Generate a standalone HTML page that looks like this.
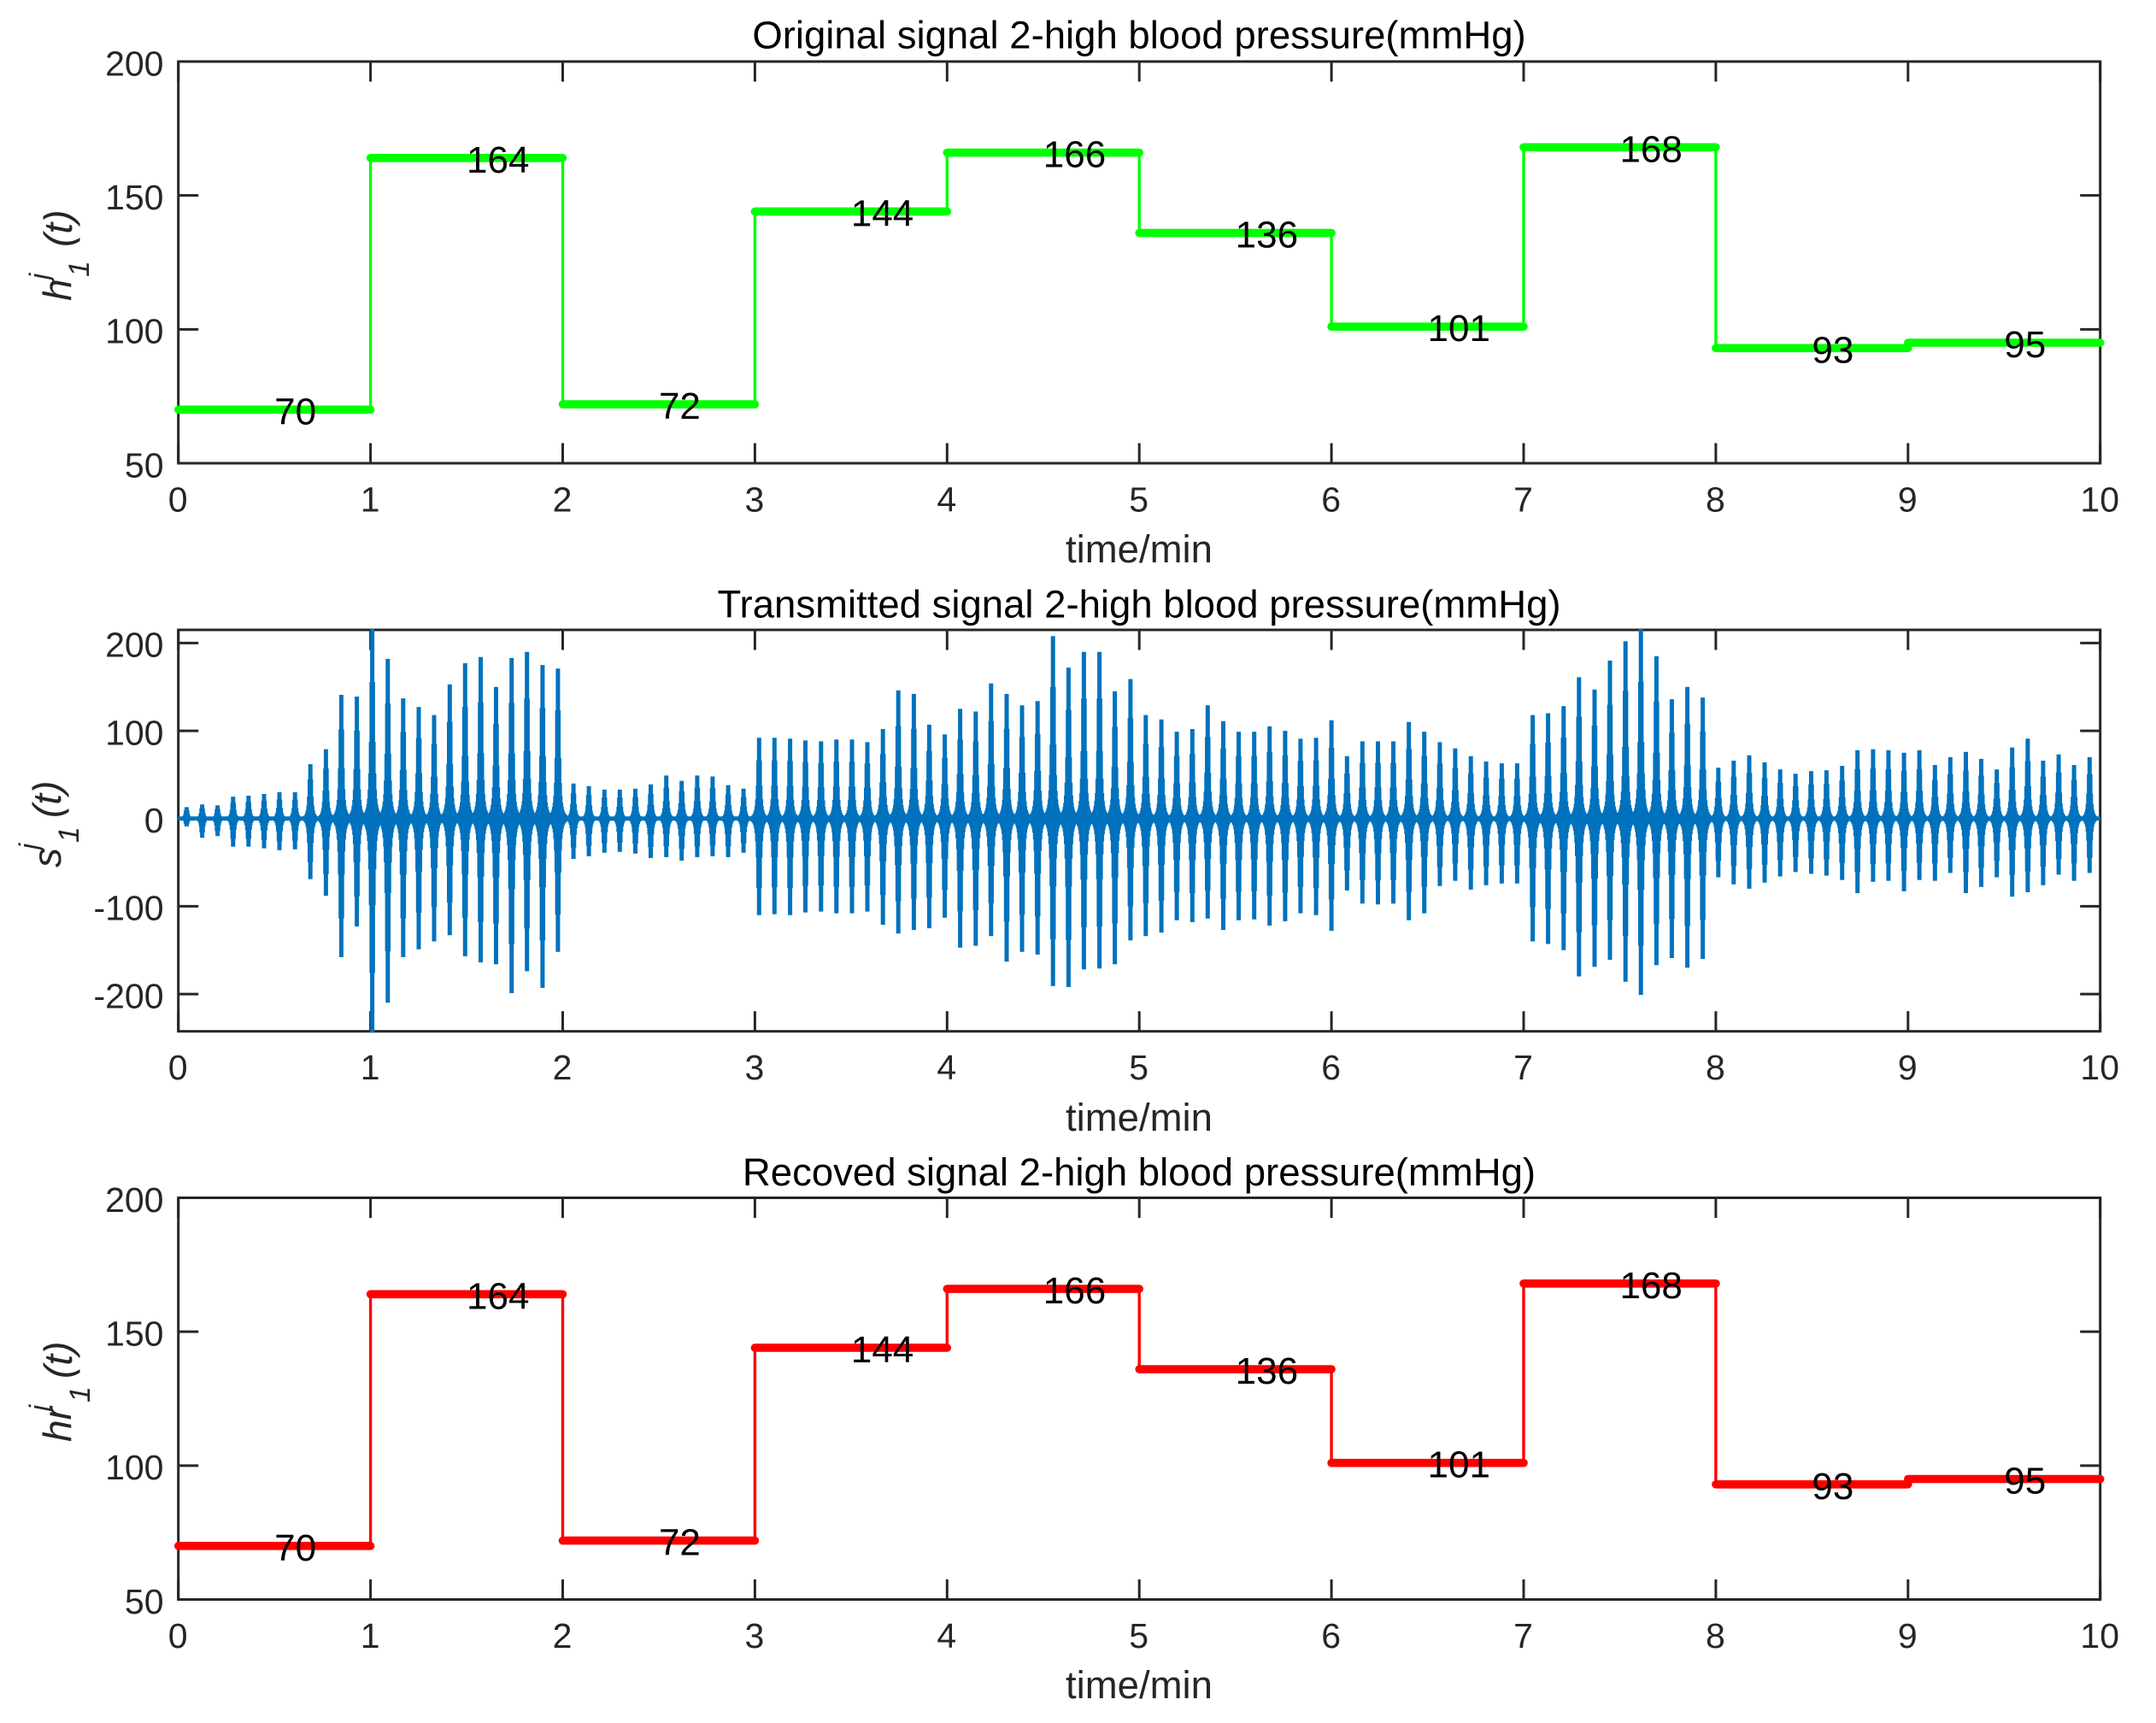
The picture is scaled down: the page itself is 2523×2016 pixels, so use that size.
<!DOCTYPE html>
<html lang="en">
<head>
<meta charset="utf-8">
<title>Blood pressure signals</title>
<style>
html,body{margin:0;padding:0;background:#fff;}
svg{display:block;}
text{font-family:"Liberation Sans",sans-serif;}
.tick{font-size:41px;fill:#262626;}
.ttl{font-size:45.5px;fill:#000;text-anchor:middle;}
.xl{font-size:45.5px;fill:#262626;text-anchor:middle;}
.yl{font-size:46px;fill:#262626;font-style:italic;}
.ys{font-size:32px;fill:#262626;font-style:italic;}
.yn{font-size:34px;fill:#262626;font-style:italic;}
.val{font-size:44px;fill:#000;}
</style>
</head>
<body>
<svg id="chart" xmlns="http://www.w3.org/2000/svg" width="2523" height="2016" viewBox="0 0 2523 2016">
  <rect x="0" y="0" width="2523" height="2016" fill="#fff"/>

  <g id="panel1"></g>
  <g id="panel2"></g>
  <g id="panel3"></g>

  <text class="ttl" x="1333" y="56.5">Original signal 2-high blood pressure(mmHg)</text>
  <text class="ttl" x="1333" y="722.5">Transmitted signal 2-high blood pressure(mmHg)</text>
  <text class="ttl" x="1333" y="1387">Recoved signal 2-high blood pressure(mmHg)</text>

  <text class="xl" x="1333" y="658">time/min</text>
  <text class="xl" x="1333" y="1323">time/min</text>
  <text class="xl" x="1333" y="1987">time/min</text>

  <g>
    <text class="yl" transform="translate(83,352) rotate(-90)">h</text>
    <text class="ys" transform="translate(57,327) rotate(-90)">j</text>
    <text class="yn" transform="translate(104,324) rotate(-90)">1</text>
    <text class="yl" transform="translate(84,289) rotate(-90)">(t)</text>
  </g>
  <g>
    <text class="yl" transform="translate(71,1015) rotate(-90)">s</text>
    <text class="ys" transform="translate(45,994) rotate(-90)">j</text>
    <text class="yn" transform="translate(92,986) rotate(-90)">1</text>
    <text class="yl" transform="translate(71,957) rotate(-90)">(t)</text>
  </g>
  <g>
    <text class="yl" transform="translate(83,1687) rotate(-90)">hr</text>
    <text class="ys" transform="translate(57,1651) rotate(-90)">j</text>
    <text class="yn" transform="translate(105,1641) rotate(-90)">1</text>
    <text class="yl" transform="translate(84,1613) rotate(-90)">(t)</text>
  </g>
</svg>

<script>
const xTickLabels = [0,1,2,3,4,5,6,7,8,9,10];
const stepYTickLabels = [50,100,150,200];
const signalYTickLabels = [-200,-100,0,100,200];

const stepEdges = [0,1,2,3,4,5,6,7,8,9,10];
const originalValues = [70,164,72,144,166,136,101,168,93,95];
const recoveredValues = [70,164,72,144,166,136,101,168,93,95];

const beatTimes = [
0.043,0.124,0.204,0.285,0.365,0.446,0.526,0.607,0.687,0.768,0.848,0.929,1.009,1.090,1.170,1.251,1.331,1.412,1.492,1.573,
1.653,1.734,1.814,1.895,1.975,2.056,2.136,2.217,2.297,2.378,2.458,2.539,2.619,2.700,2.780,2.861,2.941,3.022,3.102,3.183,
3.263,3.344,3.424,3.505,3.585,3.666,3.746,3.827,3.907,3.988,4.068,4.149,4.229,4.310,4.390,4.471,4.551,4.632,4.712,4.793,
4.873,4.954,5.034,5.115,5.195,5.276,5.356,5.437,5.517,5.598,5.678,5.759,5.839,5.920,6.000,6.081,6.161,6.242,6.322,6.403,
6.483,6.564,6.644,6.725,6.805,6.886,6.966,7.047,7.127,7.208,7.288,7.369,7.449,7.530,7.610,7.691,7.771,7.852,7.932,8.013,
8.093,8.174,8.254,8.335,8.415,8.496,8.576,8.657,8.737,8.818,8.898,8.979,9.059,9.140,9.220,9.301,9.381,9.462,9.542,9.623,
9.703,9.784,9.864,9.945];

const beatPeaks = [
13,16,15,25,26,28,30,30,62,79,141,139,216,182,137,127,118,153,177,184,
150,183,190,175,171,40,37,33,33,34,39,49,43,49,48,38,34,92,92,91,
89,88,90,90,87,102,146,142,107,96,125,122,154,142,129,134,208,172,190,190,
145,159,118,113,99,102,129,111,99,99,105,100,91,92,112,71,88,88,88,110,
99,87,80,71,65,63,63,118,120,128,161,147,180,202,216,185,136,150,138,58,
66,72,64,56,51,54,55,60,78,79,78,75,78,61,70,76,68,56,81,91,
66,73,61,70];

const beatTroughs = [
-9,-22,-20,-32,-32,-34,-36,-35,-69,-88,-158,-123,-244,-210,-158,-149,-140,-133,-157,-164,
-166,-199,-174,-193,-152,-46,-43,-39,-38,-40,-45,-44,-48,-44,-43,-44,-39,-110,-109,-110,
-107,-106,-108,-108,-106,-121,-131,-127,-125,-113,-147,-145,-134,-163,-152,-155,-191,-192,-172,-171,
-166,-139,-134,-130,-116,-118,-114,-127,-116,-115,-122,-117,-108,-110,-128,-82,-97,-98,-97,-116,
-108,-77,-71,-81,-76,-74,-74,-140,-143,-150,-180,-169,-161,-186,-201,-167,-159,-170,-160,-67,
-75,-80,-73,-66,-61,-63,-65,-70,-85,-72,-71,-83,-70,-71,-62,-85,-78,-67,-89,-84,
-76,-64,-71,-62];

const plotLeft = 208.7;
const plotRight = 2457.7;
const NS = 'http://www.w3.org/2000/svg';
const INK = '#262626';
const AXIS_W = 3;
const TICK_LEN = 23.5;

function scaleX(t){ return plotLeft + (t - 0) / (10 - 0) * (plotRight - plotLeft); }
function makeScaleY(vMin, vMax, top, bottom){
  return function(v){ return bottom - (v - vMin) / (vMax - vMin) * (bottom - top); };
}
function make(tag, attrs, parent){
  const node = document.createElementNS(NS, tag);
  for (const k in attrs) node.setAttribute(k, attrs[k]);
  parent.appendChild(node);
  return node;
}

function drawAxes(parent, prefix, scaleY, top, bottom, yLabels){
  const frame = make('rect', {x:plotLeft, y:top, width:plotRight-plotLeft, height:bottom-top, fill:'none', stroke:INK, 'stroke-width':AXIS_W}, parent);
  
  

  xTickLabels.forEach(function(v){
    const x = scaleX(v);
    const tb = make('line', {x1:x, x2:x, y1:bottom, y2:bottom-TICK_LEN, stroke:INK, 'stroke-width':AXIS_W}, parent);
    
    
    const tt = make('line', {x1:x, x2:x, y1:top, y2:top+TICK_LEN, stroke:INK, 'stroke-width':AXIS_W}, parent);
    
    
    const lab = make('text', {x:x-0.5, y:bottom+56.5, 'text-anchor':'middle', 'class':'tick'}, parent);
    lab.textContent = v;
    
    
  });

  yLabels.forEach(function(v){
    const y = scaleY(v);
    const tl = make('line', {x1:plotLeft, x2:plotLeft+TICK_LEN, y1:y, y2:y, stroke:INK, 'stroke-width':AXIS_W}, parent);
    
    
    const tr = make('line', {x1:plotRight, x2:plotRight-TICK_LEN, y1:y, y2:y, stroke:INK, 'stroke-width':AXIS_W}, parent);
    
    
    const lab = make('text', {x:191.5, y:y+16.3, 'text-anchor':'end', 'class':'tick'}, parent);
    lab.textContent = v;
    
    
  });
}

function drawSteps(parent, prefix, values, color, scaleY){
  for (let i = 0; i < values.length - 1; i++){
    const x = scaleX(stepEdges[i+1]);
    const riser = make('line', {x1:x, x2:x, y1:scaleY(values[i]), y2:scaleY(values[i+1]), stroke:color, 'stroke-width':3.4}, parent);
    
    
  }
  values.forEach(function(v, i){
    const y = scaleY(v);
    const seg = make('line', {x1:scaleX(stepEdges[i]), x2:scaleX(stepEdges[i+1]), y1:y, y2:y, stroke:color, 'stroke-width':9.6, 'stroke-linecap':'round'}, parent);
    
    
  });
  values.forEach(function(v, i){
    const lab = make('text', {x:scaleX(stepEdges[i]+0.5), y:scaleY(v)+17, 'class':'val'}, parent);
    lab.textContent = v;
    
    
  });
}

function ringEnvelope(dt){
  return 1 / (1 + Math.pow(Math.abs(dt) / 0.0054, 1.92));
}

function drawSignal(parent, scaleY){
  let d = 'M' + scaleX(0) + ' ' + scaleY(0) + 'H' + scaleX(10) + ' ';
  beatTimes.forEach(function(t, i){
    for (let k = -12; k <= 12; k++){
      const dt = k * 0.0033;
      const tt = t + dt;
      if (tt < 0 || tt > 10) continue;
      const f = ringEnvelope(dt);
      const x = scaleX(tt).toFixed(1);
      const y1 = scaleY(beatPeaks[i] * f).toFixed(1);
      const y2 = scaleY(beatTroughs[i] * f).toFixed(1);
      d += 'M' + x + ' ' + y1 + 'V' + y2;
    }
  });
  const line = make('path', {d:d, fill:'none', stroke:'#0072BD', 'stroke-width':5, 'stroke-linecap':'butt'}, parent);
  
  
}

const p1 = document.getElementById('panel1');
const p2 = document.getElementById('panel2');
const p3 = document.getElementById('panel3');

const y1 = makeScaleY(50, 200, 72, 542);
const y2 = makeScaleY(-242.5, 215, 737, 1206.7);
const y3 = makeScaleY(50, 200, 1401.5, 1871.5);

drawAxes(p1, 'original', y1, 72, 542, stepYTickLabels);
drawSteps(p1, 'original', originalValues, '#00ff00', y1);

drawAxes(p2, 'transmitted', y2, 737, 1206.7, signalYTickLabels);
drawSignal(p2, y2);

drawAxes(p3, 'recovered', y3, 1401.5, 1871.5, stepYTickLabels);
drawSteps(p3, 'recovered', recoveredValues, '#ff0000', y3);
</script>
</body>
</html>
